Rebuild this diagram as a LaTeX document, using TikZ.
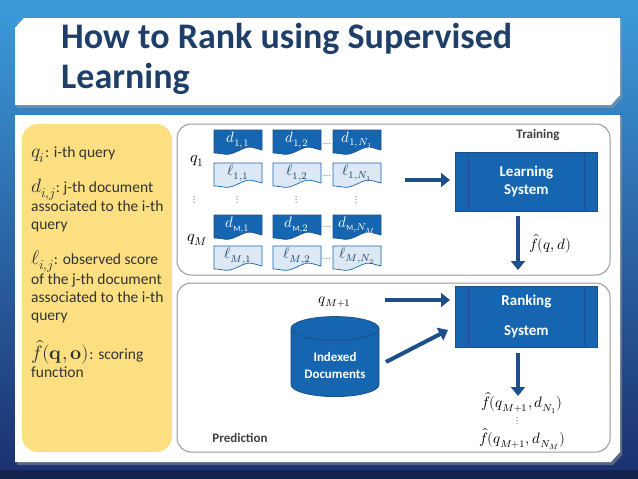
\documentclass[tikz,border=0pt]{standalone}
\usepackage{amsmath}
\usepackage{fontspec}
\usepackage{unicode-math}
\setmainfont{Carlito}
\setmathfont{Latin Modern Math}[Scale=1.25]
\usetikzlibrary{shapes.geometric,arrows.meta}
\definecolor{bgtop}{HTML}{3C9BDC}
\definecolor{bgbot}{HTML}{1B2F6E}
\definecolor{titc}{HTML}{1F3F68}
\definecolor{dblue}{HTML}{1565B0}
\definecolor{lblue}{HTML}{DDE8F5}
\definecolor{arr}{HTML}{1E4F88}
\definecolor{yel}{HTML}{FCDF80}
\tikzset{
 x=1pt,y=-1pt,
 bigarrow/.style={draw=arr,line width=4pt,-{Triangle[length=9pt,width=14pt]}},
 sysbox/.style={draw=arr,fill=dblue,line width=0.8pt,minimum width=142pt,minimum height=59pt,inner sep=0pt},
 systxt/.style={text=white,font=\bfseries\fontsize{15}{18}\selectfont,align=center},
 lbl/.style={font=\fontsize{12}{14}\selectfont,inner sep=1pt},
 dots/.style={text=black!70,font=\fontsize{8}{10}\selectfont,inner sep=0pt},
 grp/.style={draw=gray!80,line width=1pt,rounded corners=14pt},
}
\newcommand{\mydoc}[3]{% x y style
 \path[#3,line width=0.7pt] (#1,#2) -- ++(48,0) -- ++(0,20) .. controls ++(-12,-3) and ++(12,-6) .. ++(-24,1) .. controls ++(-12,6) and ++(10,0) .. ++(-24,2) -- cycle;
}
\begin{document}
\begin{tikzpicture}
\useasboundingbox (0,0) rectangle (638,479);
\shade[top color=bgtop,bottom color=bgbot] (0,0) rectangle (638,479);
\fill[bgbot!70!black] (0,470) rectangle (638,479);
% title bar
\fill[black!40,opacity=0.5] (17,21) -- (26,21) -- (622,21) -- (622,98) -- (613,108) -- (17,108) -- cycle;
\fill[white] (15,28) -- (24,18) -- (620,18) -- (620,95) -- (611,105) -- (15,105) -- cycle;
\node[anchor=west,text=titc,font=\bfseries\fontsize{36}{40}\selectfont,align=left,inner sep=0pt] (title) at (61,59) {How to Rank using Supervised\\Learning};
% content panel
\fill[black!40,opacity=0.5] (17,117) -- (622,117) -- (622,455) -- (613,465) -- (17,465) -- cycle;
\fill[white] (15,115) -- (620,115) -- (620,452) -- (611,462) -- (15,462) -- cycle;
% yellow box
\fill[yel] (22,124) [rounded corners=16pt] -- (172,124) -- (172,452) -- (22,452) -- cycle;
\node[anchor=north west,align=flush left,text width=141pt,font=\fontsize{15.5}{18}\selectfont,text=black!80,inner sep=0pt] (legend) at (31,147) {%
$q_i$: i-th query\\[15pt]
$d_{i,j}$:\ j-th document associated to the i-th query\\[17pt]
$\ell_{i,j}$: observed score of the j-th document associated to the i-th query\\[17pt]
$\hat f(\symbf{q},\symbf{o})$: scoring function};
% groups
\draw[grp,fill=white] (177,124) rectangle (610,275);
\draw[grp,fill=white] (177,283) rectangle (610,452);
\node[lbl,font=\bfseries\fontsize{13}{16}\selectfont,text=black!75] (train) at (538,135) {Training};
\node[lbl,font=\bfseries\fontsize{13}{16}\selectfont,text=black!75] (pred) at (240,438) {Prediction};
% documents
\foreach \x/\a/\b/\c/\e [count=\i] in {214/{d_{1,1}}/{\ell_{1,1}}/{d_{\mathrm{M},1}}/{\ell_{M,1}},273/{d_{1,2}}/{\ell_{1,2}}/{d_{\mathrm{M},2}}/{\ell_{M,2}},333/{d_{1,N_1}}/{\ell_{1,N_1}}/{d_{\mathrm{M},N_M}}/{\ell_{M,N_2}}}{
 \mydoc{\x}{130}{fill=dblue,draw=arr}
 \node[text=white,lbl] (da\i) at (\x+24,140) {$\a$};
 \mydoc{\x}{163}{fill=lblue,draw=dblue}
 \node[text=titc,lbl] (la\i) at (\x+24,173) {$\b$};
 \node[dots] (va\i) at (\x+24,200) {$\vdots$};
 \mydoc{\x}{215}{fill=dblue,draw=arr}
 \node[text=white,lbl] (dm\i) at (\x+24,225) {$\c$};
 \mydoc{\x}{246}{fill=lblue,draw=dblue}
 \node[text=titc,lbl] (lm\i) at (\x+24,256) {$\e$};
}
\foreach \y/\n in {145/h1,177/h2,228/h3,260/h4}{\node[dots] (\n) at (327,\y) {$\cdots$};}
\node[lbl,font=\fontsize{13}{15}\selectfont] (q1) at (197,161) {$q_1$};
\node[dots] (qv) at (195,200) {$\vdots$};
\node[lbl,font=\fontsize{13}{15}\selectfont] (qM) at (197,240) {$q_M$};
% learning system
\node[sysbox,anchor=north west] (ls) at (455,152) {};
\draw[arr,line width=0.8pt] (468,152) -- (468,211) (584,152) -- (584,211);
\node[systxt] (lst) at (ls.center) {Learning\\System};
\draw[bigarrow] (405,180) coordinate (a1s) -- (450,180) coordinate (a1e);
\draw[bigarrow] (518,216) coordinate (a2s) -- (518,270) coordinate (a2e);
\node[lbl,anchor=west] (fqd) at (528,244) {$\hat f(q,d)$};
% ranking system
\node[sysbox,anchor=north west,minimum height=61pt] (rs) at (455,286) {};
\draw[arr,line width=0.8pt] (468,286) -- (468,347) (584,286) -- (584,347);
\node[systxt,align=center] (rst) at (rs.center) {Ranking\\[12pt]System};
\node[lbl] (qm1) at (335,302) {$q_{M+1}$};
\draw[bigarrow] (385,300) -- (450,300);
\node[cylinder,shape border rotate=90,aspect=0.35,draw=arr,fill=dblue,line width=0.8pt,minimum width=88pt,minimum height=80pt,systxt,font=\bfseries\fontsize{13}{17}\selectfont] (db) at (335,365) {Indexed\\Documents};
\draw[bigarrow] (386,362) -- (448,330);
\draw[bigarrow] (518,353) -- (518,396);
\node[lbl] (o1) at (522,403) {$\hat f(q_{M+1},d_{N_1})$};
\node[dots] (ov) at (518,421) {$\vdots$};
\node[lbl] (o2) at (522,439) {$\hat f(q_{M+1},d_{N_M})$};
\end{tikzpicture}
\end{document}
